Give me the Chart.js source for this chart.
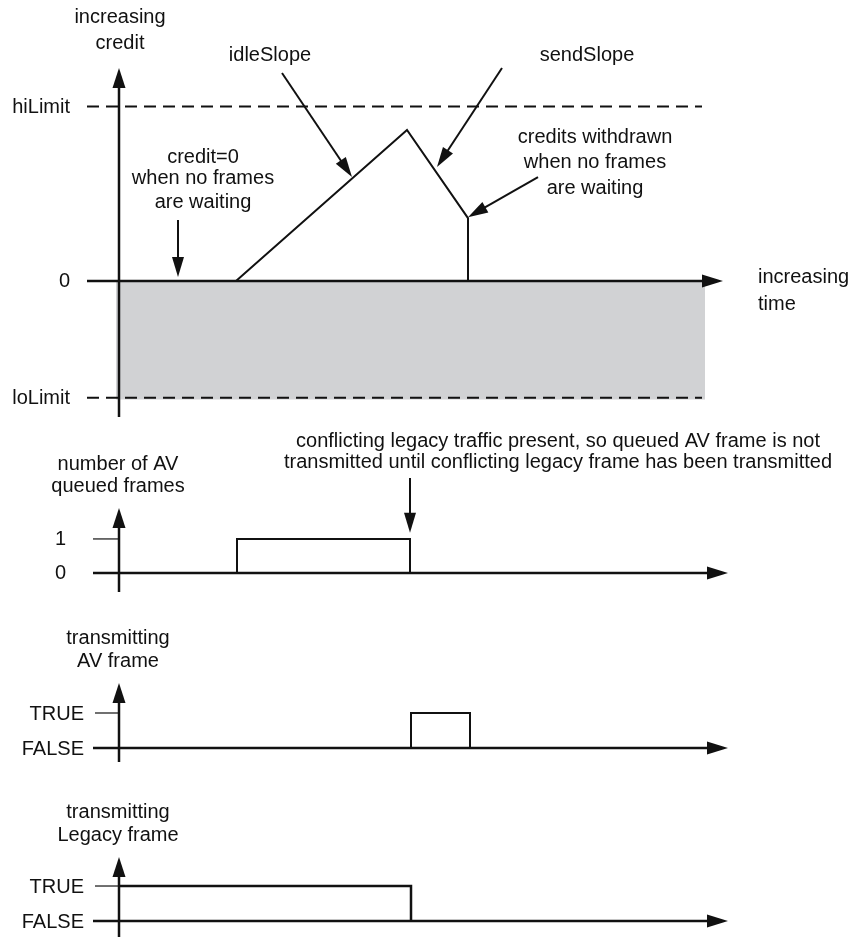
<!DOCTYPE html>
<html><head><meta charset="utf-8">
<script src="https://cdn.jsdelivr.net/npm/chart.js@4/dist/chart.umd.min.js"></script>
<style>
html,body{margin:0;padding:0;background:#fff;}
#wrap{position:relative;width:853px;height:938px;overflow:hidden;}
#wrap canvas{position:absolute;left:0;top:0;}
</style></head><body>
<div id="wrap">
<canvas id="c1" width="853" height="938"></canvas>
<canvas id="c2" width="853" height="938"></canvas>
<canvas id="c3" width="853" height="938"></canvas>
<canvas id="c4" width="853" height="938"></canvas>
</div>
<script>
// ---------------- data (time in arbitrary units, 0 = vertical axis) ----------------
const creditTime  = [0, 117, 288, 349, 349];
const creditValue = [0, 0, 86.5, 36, 0];
const hiLimitValue = 100;
const loLimitValue = -67;
const limitSpan = [-32, 583];          // extent of the limit lines (time)
const shadeSpan = [-3, 586];           // extent of the shaded negative-credit region (time)
const shadeBottom = -68;
const creditTickValues = [100, 0, -67];
const creditTickLabels = ['hiLimit', '0', 'loLimit'];

const queuedTime  = [118, 118, 291, 291];
const queuedCount = [0, 1, 1, 0];
const queuedTickValues = [1, 0];
const queuedTickLabels = ['1', '0'];

const avTxTime  = [292, 292, 351, 351];
const avTxState = [0, 1, 1, 0];

const legacyTxTime  = [0, 292, 292];
const legacyTxState = [1, 1, 0];

const boolTickValues = [1, 0];
const boolTickLabels = ['TRUE', 'FALSE'];

// ---------------- helpers ----------------
const FONT = '20px "Liberation Sans", Arial, Helvetica, sans-serif';
const INK = '#111';
const pts = (xs, ys) => xs.map((x, i) => ({x, y: ys[i]}));

function head(ctx, x1, y1, x2, y2, len, half) {
  const a = Math.atan2(y2 - y1, x2 - x1), c = Math.cos(a), s = Math.sin(a);
  ctx.beginPath();
  ctx.moveTo(x2, y2);
  ctx.lineTo(x2 - len * c + half * s, y2 - len * s - half * c);
  ctx.lineTo(x2 - len * c - half * s, y2 - len * s + half * c);
  ctx.closePath();
  ctx.fill();
}
function arrow(ctx, x1, y1, x2, y2, lw, len, half) {
  const a = Math.atan2(y2 - y1, x2 - x1);
  ctx.lineWidth = lw;
  ctx.beginPath();
  ctx.moveTo(x1, y1);
  ctx.lineTo(x2 - len * 0.7 * Math.cos(a), y2 - len * 0.7 * Math.sin(a));
  ctx.stroke();
  head(ctx, x1, y1, x2, y2, len, half);
}

function diagramPlugin(spec) {
  return {
    id: 'diagram',
    afterDatasetsDraw(chart) {
      const ctx = chart.ctx, xs = chart.scales.x, ys = chart.scales.y;
      const X = v => xs.getPixelForValue(v), Y = v => ys.getPixelForValue(v);
      ctx.save();
      ctx.strokeStyle = INK; ctx.fillStyle = INK; ctx.lineCap = 'butt';
      // tick marks
      (spec.tickMarks || []).forEach(v => {
        ctx.lineWidth = 1.2;
        ctx.beginPath(); ctx.moveTo(xs.left + (spec.tickInset || 0), Y(v)); ctx.lineTo(X(0), Y(v)); ctx.stroke();
      });
      // vertical axis with arrow
      const x0 = X(0);
      ctx.lineWidth = 2.5;
      ctx.beginPath(); ctx.moveTo(x0, ys.bottom); ctx.lineTo(x0, ys.top + 14); ctx.stroke();
      head(ctx, x0, ys.bottom, x0, ys.top, 20, 6.5);
      // horizontal axis with arrow
      const y0 = Y(0);
      ctx.lineWidth = 2.5;
      ctx.beginPath(); ctx.moveTo(xs.left, y0); ctx.lineTo(xs.right - 14, y0); ctx.stroke();
      head(ctx, xs.left, y0, xs.right, y0, 21, 6.5);
      // tick labels
      ctx.font = FONT; ctx.textBaseline = 'middle'; ctx.textAlign = 'right';
      spec.tickValues.forEach((v, i) => ctx.fillText(spec.tickLabels[i], xs.left - spec.labelGap, Y(v) + 1));
      // annotation texts
      spec.texts.forEach(t => {
        ctx.textAlign = t[3] || 'center';
        ctx.fillText(t[0], X(t[1]), Y(t[2]));
      });
      // annotation arrows
      (spec.arrows || []).forEach(a => arrow(ctx, X(a[0]), Y(a[1]), X(a[2]), Y(a[3]), 2, 20, 6));
      ctx.restore();
    }
  };
}

function makeChart(id, spec) {
  return new Chart(document.getElementById(id), {
    type: 'line',
    data: { datasets: spec.datasets.map(d => Object.assign({
      pointRadius: 0, borderColor: INK, borderWidth: 2, tension: 0, fill: false, clip: false, order: 0
    }, d)) },
    options: {
      responsive: false, animation: false, events: [],
      layout: { padding: spec.pad },
      plugins: { legend: { display: false }, tooltip: { enabled: false }, title: { display: false } },
      scales: {
        x: { type: 'linear', display: false, min: spec.xMin, max: spec.xMax },
        y: { type: 'linear', display: false, min: spec.yMin, max: spec.yMax }
      }
    },
    plugins: [diagramPlugin(spec)]
  });
}

// ---------------- panel 1: credit ----------------
makeChart('c1', {
  pad: {left: 87, right: 130, top: 68, bottom: 521},
  xMin: -32, xMax: 604, yMin: -78, yMax: 122,
  datasets: [
    {data: pts(shadeSpan, [shadeBottom, shadeBottom]), borderWidth: 0, fill: 'origin', backgroundColor: '#d1d2d4', order: 10},
    {data: pts(limitSpan, [hiLimitValue, hiLimitValue]), borderDash: [12, 7], borderWidth: 2},
    {data: pts(limitSpan, [loLimitValue, loLimitValue]), borderDash: [12, 7], borderWidth: 2},
    {data: pts(creditTime, creditValue), borderWidth: 2}
  ],
  tickValues: creditTickValues, tickLabels: creditTickLabels, labelGap: 17,
  texts: [
    ['increasing', 1, 150.7], ['credit', 1, 136.3],
    ['idleSlope', 151, 129.4], ['sendSlope', 468, 129.4],
    ['credit=0', 84, 71], ['when no frames', 84, 58.4], ['are waiting', 84, 45.2],
    ['credits withdrawn', 476, 81.9], ['when no frames', 476, 67.6], ['are waiting', 476, 53.2],
    ['increasing', 639, 1.7, 'left'], ['time', 639, -13.8, 'left']
  ],
  arrows: [
    [163, 119.1, 233, 59.5],
    [383, 122, 318, 65.3],
    [419, 59.5, 349, 36.5],
    [59, 34.9, 59, 2.2]
  ]
});

// ---------------- panel 2: queued frames ----------------
makeChart('c2', {
  pad: {left: 93, right: 125, top: 508, bottom: 346},
  xMin: -26, xMax: 609, yMin: -0.56, yMax: 1.91,
  datasets: [{data: pts(queuedTime, queuedCount)}],
  tickValues: queuedTickValues, tickLabels: queuedTickLabels, labelGap: 27,
  tickMarks: [1],
  texts: [
    ['number of AV', -1, 3.2], ['queued frames', -1, 2.53],
    ['conflicting legacy traffic present, so queued AV frame is not', 439, 3.88],
    ['transmitted until conflicting legacy frame has been transmitted', 439, 3.24]
  ],
  arrows: [[291, 2.79, 291, 1.18]]
});

// ---------------- panel 3: transmitting AV frame ----------------
makeChart('c3', {
  pad: {left: 93, right: 125, top: 683, bottom: 176},
  xMin: -26, xMax: 609, yMin: -0.4, yMax: 1.857,
  datasets: [{data: pts(avTxTime, avTxState)}],
  tickValues: boolTickValues, tickLabels: boolTickLabels, labelGap: 9,
  tickMarks: [1], tickInset: 2,
  texts: [['transmitting', -1, 3.14], ['AV frame', -1, 2.46]]
});

// ---------------- panel 4: transmitting legacy frame ----------------
makeChart('c4', {
  pad: {left: 93, right: 125, top: 857, bottom: 1},
  xMin: -26, xMax: 609, yMin: -0.457, yMax: 1.829,
  datasets: [{data: pts(legacyTxTime, legacyTxState), borderWidth: 2.5}],
  tickValues: boolTickValues, tickLabels: boolTickLabels, labelGap: 9,
  tickMarks: [1], tickInset: 2,
  texts: [['transmitting', -1, 3.11], ['Legacy frame', -1, 2.43]]
});
</script>
</body></html>
